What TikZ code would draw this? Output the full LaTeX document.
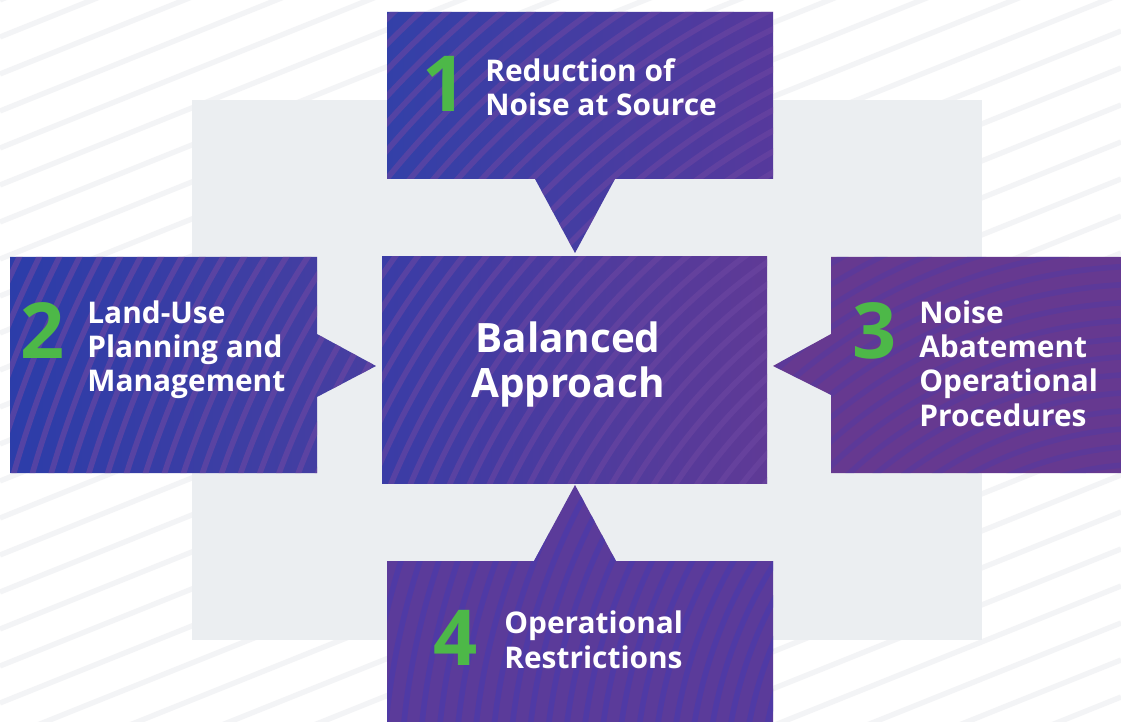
\documentclass[tikz,border=0pt]{standalone}
\usepackage{fontspec}
\setmainfont{Open Sans}
\definecolor{bggray}{HTML}{EBEEF1}
\definecolor{bgstripe}{HTML}{F3F4F6}
\definecolor{numgreen}{HTML}{4DB848}
\definecolor{blueA}{HTML}{2C3DA9}
\definecolor{blueB}{HTML}{3340A8}
\definecolor{blueC}{HTML}{3A3CA6}
\definecolor{purpA}{HTML}{56399C}
\definecolor{purpB}{HTML}{483EA0}
\definecolor{purpC}{HTML}{5F3A96}
\definecolor{purpD}{HTML}{663990}
\definecolor{purpE}{HTML}{5B3B9A}
\definecolor{stripeP}{HTML}{6E47A2}
\definecolor{stripeB}{HTML}{4A3AAA}
\newcommand\panel[5]{%
  \begin{scope}
    \clip #1;
    \shade[left color=#2,right color=#3] #1;
    \foreach \r in {300,318,...,1310}
      \draw[line width=3.2pt,color=#4,opacity=#5] (1150,800) circle[radius=\r];
  \end{scope}}
\begin{document}
\begin{tikzpicture}[x=0.02cm,y=-0.02cm,
  lbl/.style={text=white,font=\bfseries\fontsize{17}{19.45}\selectfont,align=left,anchor=base west,inner sep=0pt},
  ctr/.style={text=white,font=\bfseries\fontsize{23}{26}\selectfont,align=center,anchor=base,inner sep=0pt},
  num/.style={text=numgreen,font=\bfseries\fontsize{44}{44}\selectfont,anchor=base,inner sep=0pt}]
\useasboundingbox (0,0) rectangle (1121,722);
\fill[white] (0,0) rectangle (1121,722);
% faint background stripes
\begin{scope}
  \clip (0,0) rectangle (1121,722);
  \foreach \c in {0,37,...,1200}
    \draw[bgstripe,line width=3pt] (0,\c) -- (1121,\c-450);
\end{scope}
% gray backdrop
\fill[bggray] (192,100) rectangle (982,640);
% panels
\panel{(387,12) -- (773,12) -- (773,179) -- (615,179) -- (575,253) -- (535,179) -- (387,179) -- cycle}{blueB}{purpA}{stripeP}{0.55}
\panel{(10,257) -- (317,257) -- (317,334) -- (376,366) -- (317,397) -- (317,473) -- (10,473) -- cycle}{blueA}{purpB}{stripeP}{0.6}
\panel{(831,257) -- (1121,257) -- (1121,473) -- (831,473) -- (831,395) -- (773,366) -- (831,334) -- cycle}{purpD}{purpD}{stripeB}{0.35}
\panel{(387,561) -- (534,561) -- (575,485) -- (616,561) -- (773,561) -- (773,722) -- (387,722) -- cycle}{purpE}{purpE}{stripeB}{0.7}
\panel{(382,257) -- (767,257) -- (767,483) -- (382,483) -- cycle}{blueC}{purpC}{stripeP}{0.55}
% texts
\node[num] (n1) at (445,112) {1};
\node[lbl] (t1) at (485,116) {Reduction of\\Noise at Source};
\node[num] (n2) at (43,358) {2};
\node[lbl] (t2) at (87,392) {Land-Use\\Planning and\\Management};
\node[num] (n3) at (875,358) {3};
\node[lbl] (t3) at (919,426) {Noise\\Abatement\\Operational\\Procedures};
\node[num] (n4) at (456,665) {4};
\node[lbl] (t4) at (504,668) {Operational\\Restrictions};
\node[ctr] (c) at (568,398) {Balanced\\Approach};
\end{tikzpicture}
\end{document}
